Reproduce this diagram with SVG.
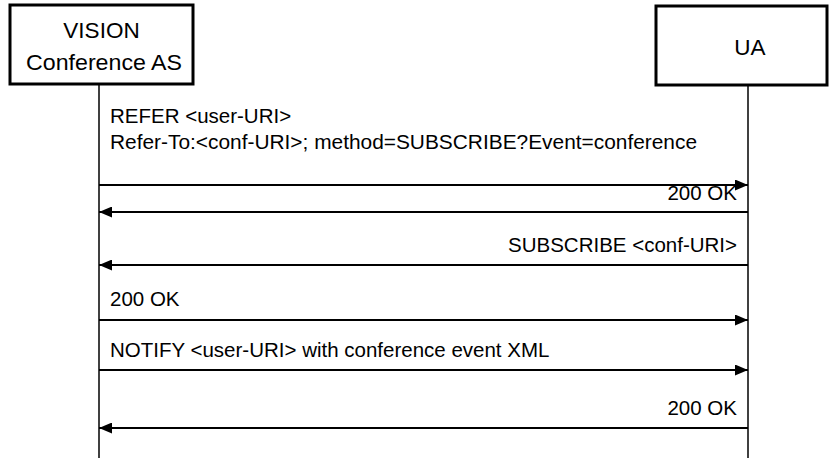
<svg xmlns="http://www.w3.org/2000/svg" width="829" height="458" viewBox="0 0 829 458">
  <defs>
    <marker id="head" viewBox="0 0 13 11" refX="13" refY="5.5" markerWidth="13" markerHeight="11" markerUnits="userSpaceOnUse" orient="auto">
      <path d="M0,0 L13,5.5 L0,11 Z" fill="#000"/>
    </marker>
    <style>
      .box { fill: #fff; stroke: #000; stroke-width: 3; }
      .life { stroke: #000; stroke-width: 1.5; fill: none; }
      .msg { stroke: #000; stroke-width: 2; fill: none; marker-end: url(#head); }
      .t { font-family: "Liberation Sans", Arial, sans-serif; font-size: 20.5px; fill: #000; }
      .h { font-family: "Liberation Sans", Arial, sans-serif; font-size: 22.5px; fill: #000; text-anchor: middle; }
      .r { text-anchor: end; }
    </style>
  </defs>

  <rect width="829" height="458" fill="#fff"/>

  <!-- participant: conference application server -->
  <g id="vision-as">
    <rect class="box" x="10" y="5" width="183" height="79"/>
    <text class="h" x="101.5" y="38">VISION</text>
    <text class="h" x="104" y="70" textLength="156" lengthAdjust="spacingAndGlyphs">Conference AS</text>
    <line class="life" x1="99" y1="84" x2="99" y2="458"/>
  </g>

  <!-- participant: user agent -->
  <g id="ua">
    <rect class="box" x="656" y="6" width="171" height="79"/>
    <text class="h" x="750" y="55">UA</text>
    <line class="life" x1="748" y1="85" x2="748" y2="458"/>
  </g>

  <!-- messages -->
  <g id="connectors">
    <line class="msg" x1="99" y1="185" x2="748" y2="185"/>
    <line class="msg" x1="748" y1="212" x2="99" y2="212"/>
    <line class="msg" x1="748" y1="265" x2="99" y2="265"/>
    <line class="msg" x1="99" y1="320" x2="748" y2="320"/>
    <line class="msg" x1="99" y1="370" x2="748" y2="370"/>
    <line class="msg" x1="748" y1="428" x2="99" y2="428"/>
  </g>

  <g id="labels">
    <text class="t" x="110" y="123">REFER &lt;user-URI&gt;</text>
    <text class="t" x="110" y="149" textLength="587" lengthAdjust="spacingAndGlyphs">Refer-To:&lt;conf-URI&gt;; method=SUBSCRIBE?Event=conference</text>
    <text class="t r" x="737" y="200">200 OK</text>
    <text class="t r" x="737" y="252">SUBSCRIBE &lt;conf-URI&gt;</text>
    <text class="t" x="110" y="306">200 OK</text>
    <text class="t" x="110" y="357">NOTIFY &lt;user-URI&gt; with conference event XML</text>
    <text class="t r" x="737" y="415">200 OK</text>
  </g>
</svg>
